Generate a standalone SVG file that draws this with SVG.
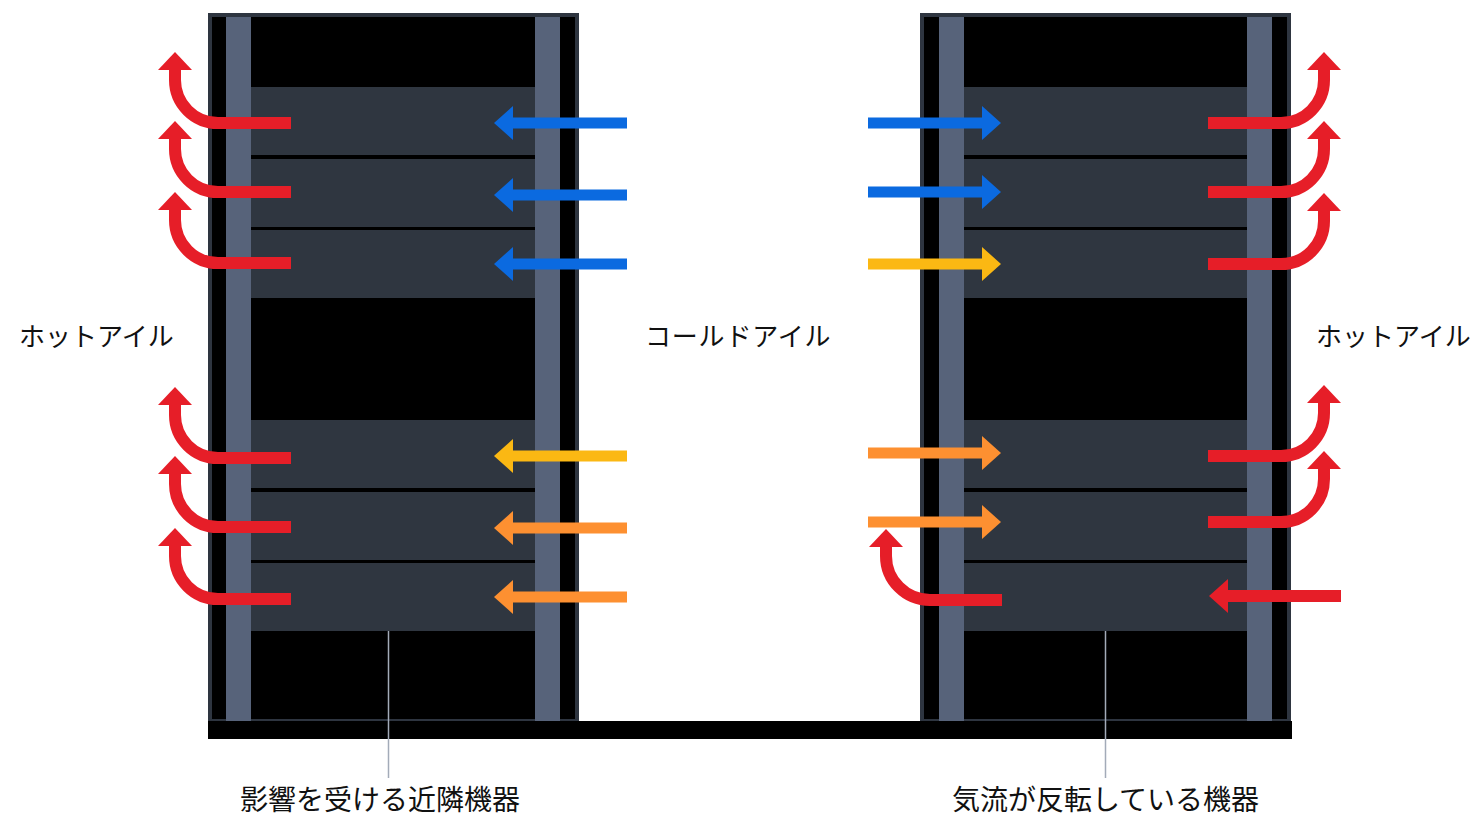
<svg xmlns="http://www.w3.org/2000/svg" xmlns:xlink="http://www.w3.org/1999/xlink" width="1475" height="819" viewBox="0 0 1475 819">
<style>
.rack{fill:#000;stroke:#2e3540;stroke-width:4}
.post{fill:#57637a}
.srv{fill:#2f3640}
.callout{stroke:#a3abb8;stroke-width:1.5;fill:none}
.lbl{font-family:"Noto Sans CJK JP","Noto Sans",sans-serif;font-size:26px;fill:#111}
.lbl2{font-family:"Noto Sans CJK JP","Noto Sans",sans-serif;font-size:28px;fill:#111;text-anchor:middle}
.red{stroke:#e61e28;fill:none;stroke-width:12}
.redf{fill:#e61e28;stroke:none}
.head{stroke:none}
.shaft{fill:none;stroke-width:11}
</style>
<defs>
<g id="hotL"><path class="red" d="M291,0 H218 A43,43 0 0 1 175,-43 V-54"/><polygon class="redf" points="175,-71 158,-53 192,-53"/></g>
<g id="hotR"><path class="red" d="M1208,0 H1281 A43,43 0 0 0 1324,-43 V-54"/><polygon class="redf" points="1324,-71 1307,-53 1341,-53"/></g>
<g id="inL"><line class="shaft" x1="627" y1="0" x2="511" y2="0"/><polygon class="head" points="494,0 513,-17 513,17"/></g>
<g id="inR"><line class="shaft" x1="868" y1="0" x2="984" y2="0"/><polygon class="head" points="1001,0 982,-17 982,17"/></g>
</defs>
<rect x="0" y="0" width="1475" height="819" fill="#fff"/>
<g id="rack-left">
<rect class="rack" x="210" y="15" width="367" height="706"/>
<rect class="post" x="226" y="17" width="25" height="704"/>
<rect class="post" x="535" y="17" width="25" height="704"/>
<rect class="srv" x="251" y="87" width="284" height="68"/>
<rect class="srv" x="251" y="159" width="284" height="68"/>
<rect class="srv" x="251" y="230" width="284" height="68"/>
<rect class="srv" x="251" y="420" width="284" height="68"/>
<rect class="srv" x="251" y="492" width="284" height="68"/>
<rect class="srv" x="251" y="563" width="284" height="68"/>
</g>
<g id="rack-right">
<rect class="rack" x="922" y="15" width="367" height="706"/>
<rect class="post" x="939" y="17" width="25" height="704"/>
<rect class="post" x="1247" y="17" width="25" height="704"/>
<rect class="srv" x="964" y="87" width="283" height="68"/>
<rect class="srv" x="964" y="159" width="283" height="68"/>
<rect class="srv" x="964" y="230" width="283" height="68"/>
<rect class="srv" x="964" y="420" width="283" height="68"/>
<rect class="srv" x="964" y="492" width="283" height="68"/>
<rect class="srv" x="964" y="563" width="283" height="68"/>
</g>
<g id="floor"><rect x="208" y="721" width="1084" height="18" fill="#000"/></g>
<g id="connectors">
<use xlink:href="#hotL" transform="translate(0,123)"/>
<use xlink:href="#hotL" transform="translate(0,192)"/>
<use xlink:href="#hotL" transform="translate(0,263)"/>
<use xlink:href="#hotL" transform="translate(0,458)"/>
<use xlink:href="#hotL" transform="translate(0,527)"/>
<use xlink:href="#hotL" transform="translate(0,599)"/>
<use xlink:href="#inL" transform="translate(0,123)" style="stroke:#0b6ae0;fill:#0b6ae0"/>
<use xlink:href="#inL" transform="translate(0,195)" style="stroke:#0b6ae0;fill:#0b6ae0"/>
<use xlink:href="#inL" transform="translate(0,264)" style="stroke:#0b6ae0;fill:#0b6ae0"/>
<use xlink:href="#inL" transform="translate(0,456)" style="stroke:#fbb813;fill:#fbb813"/>
<use xlink:href="#inL" transform="translate(0,528)" style="stroke:#fd9031;fill:#fd9031"/>
<use xlink:href="#inL" transform="translate(0,597)" style="stroke:#fd9031;fill:#fd9031"/>
<use xlink:href="#inR" transform="translate(0,123)" style="stroke:#0b6ae0;fill:#0b6ae0"/>
<use xlink:href="#inR" transform="translate(0,192)" style="stroke:#0b6ae0;fill:#0b6ae0"/>
<use xlink:href="#inR" transform="translate(0,264)" style="stroke:#fbb813;fill:#fbb813"/>
<use xlink:href="#inR" transform="translate(0,453)" style="stroke:#fd9031;fill:#fd9031"/>
<use xlink:href="#inR" transform="translate(0,522)" style="stroke:#fd9031;fill:#fd9031"/>
<use xlink:href="#hotR" transform="translate(0,123)"/>
<use xlink:href="#hotR" transform="translate(0,192)"/>
<use xlink:href="#hotR" transform="translate(0,264)"/>
<use xlink:href="#hotR" transform="translate(0,456)"/>
<use xlink:href="#hotR" transform="translate(0,522)"/>
<path class="red" d="M1002,600 H930 A44,44 0 0 1 886,556 V546"/>
<polygon class="redf" points="886,529 869,547 903,547"/>
<line x1="1341" y1="596" x2="1226" y2="596" stroke="#e61e28" stroke-width="12"/>
<polygon class="redf" points="1209,596 1228,579 1228,613"/>
<line class="callout" x1="388.5" y1="631" x2="388.5" y2="778"/>
<line class="callout" x1="1105.5" y1="631" x2="1105.5" y2="778"/>
</g>
<g id="labels">
<text class="lbl" x="19" y="346">ホットアイル</text>
<text class="lbl" x="645" y="346" letter-spacing="0.8">コールドアイル</text>
<text class="lbl" x="1316" y="346">ホットアイル</text>
<text class="lbl2" x="380" y="810">影響を受ける近隣機器</text>
<text class="lbl2" x="1105.5" y="810">気流が反転している機器</text>
</g>
</svg>
